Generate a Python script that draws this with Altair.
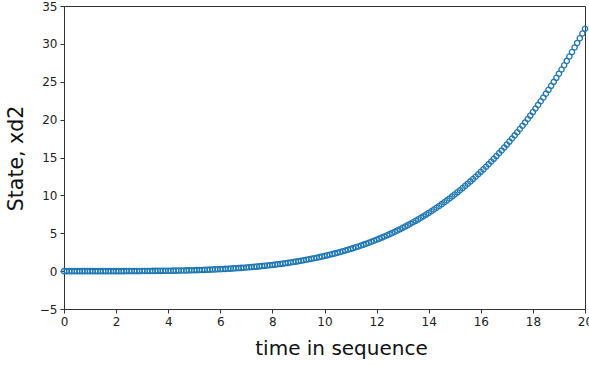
import altair as alt
import pandas as pd

# time samples 0.0 .. 20.0 step 0.1
t_values = [round(i * 0.1, 1) for i in range(201)]

xd2_values = [
    0.00, 0.00, 0.00, 0.00, 0.00, 0.00, 0.00, 0.00, 0.00, 0.00,
    0.00, 0.00, 0.00, 0.00, 0.00, 0.00, 0.00, 0.00, 0.00, 0.00,
    0.00, 0.00, 0.00, 0.00, 0.01, 0.01, 0.01, 0.01, 0.01, 0.01,
    0.016, 0.018, 0.021, 0.024, 0.027, 0.030, 0.034, 0.037, 0.042, 0.046,
    0.051, 0.057, 0.062, 0.068, 0.075, 0.082, 0.090, 0.098, 0.106, 0.115,
    0.125, 0.135, 0.146, 0.158, 0.170, 0.183, 0.197, 0.211, 0.226, 0.242,
    0.259, 0.277, 0.296, 0.315, 0.336, 0.357, 0.380, 0.403, 0.428, 0.453,
    0.480, 0.508, 0.537, 0.568, 0.600, 0.633, 0.667, 0.703, 0.740, 0.779,
    0.819, 0.861, 0.904, 0.949, 0.996, 1.044, 1.094, 1.146, 1.199, 1.255,
    1.312, 1.372, 1.433, 1.496, 1.562, 1.629, 1.699, 1.771, 1.845, 1.921,
    2.000, 2.081, 2.165, 2.251, 2.340, 2.431, 2.525, 2.622, 2.721, 2.823,
    2.928, 3.036, 3.147, 3.261, 3.378, 3.498, 3.621, 3.748, 3.878, 4.011,
    4.147, 4.287, 4.431, 4.578, 4.728, 4.883, 5.041, 5.203, 5.369, 5.538,
    5.712, 5.890, 6.072, 6.258, 6.448, 6.643, 6.842, 7.046, 7.253, 7.466,
    7.683, 7.905, 8.132, 8.363, 8.600, 8.841, 9.087, 9.339, 9.596, 9.858,
    10.125, 10.398, 10.676, 10.960, 11.249, 11.544, 11.845, 12.151, 12.464, 12.783,
    13.107, 13.438, 13.775, 14.118, 14.468, 14.824, 15.187, 15.556, 15.932, 16.315,
    16.704, 17.101, 17.504, 17.915, 18.333, 18.758, 19.190, 19.630, 20.078, 20.533,
    20.995, 21.466, 21.944, 22.430, 22.925, 23.427, 23.938, 24.457, 24.984, 25.520,
    26.064, 26.617, 27.179, 27.750, 28.329, 28.918, 29.516, 30.123, 30.739, 31.365,
    32.000,
]

x_ticks = [0, 2, 4, 6, 8, 10, 12, 14, 16, 18, 20]
y_ticks = [-5, 0, 5, 10, 15, 20, 25, 30, 35]

df = pd.DataFrame({"t": t_values, "xd2": xd2_values})

FONT = "DejaVu Sans"
AX = "#333333"

chart = (
    alt.Chart(df)
    .mark_point(shape="circle", filled=False, color="#1f77b4", size=28, strokeWidth=1.3, opacity=1, clip=False)
    .encode(
        x=alt.X(
            "t:Q",
            scale=alt.Scale(domain=[0, 20], nice=False, zero=False),
            axis=alt.Axis(
                values=x_ticks,
                title="time in sequence",
                titleFontSize=20,
                titleFont=FONT,
                titleFontWeight="normal",
                titleColor="#111111",
                titleX=277,
                titleY=45,
                titleBaseline="alphabetic",
                titleAlign="center",
                labelFont=FONT,
                labelFontSize=12,
                labelColor="#222222",
                labelPadding=3,
                labelFlush=False,
                labelOverlap=False,
                tickSize=4,
                tickColor=AX,
                domainColor=AX,
                grid=False,
            ),
        ),
        y=alt.Y(
            "xd2:Q",
            scale=alt.Scale(domain=[-5, 35], nice=False, zero=False),
            axis=alt.Axis(
                values=y_ticks,
                title="State, xd2",
                titleFontSize=20.5,
                titleFont=FONT,
                titleFontWeight="normal",
                titleColor="#111111",
                titleX=-42,
                titleY=152,
                titleBaseline="alphabetic",
                titleAlign="center",
                labelFont=FONT,
                labelFontSize=12,
                labelColor="#222222",
                labelPadding=3,
                labelFlush=False,
                labelOverlap=False,
                tickSize=4,
                tickColor=AX,
                domainColor=AX,
                grid=False,
            ),
        ),
    )
    .properties(
        width=521,
        height=303,
        padding={"left": 64, "top": 6, "right": 4, "bottom": 56},
        autosize=alt.AutoSizeParams(type="none"),
        background="white",
    )
    .configure_view(stroke=AX, strokeWidth=1)
)

chart.save("out.html", embed_options={"renderer": "svg", "actions": False})
